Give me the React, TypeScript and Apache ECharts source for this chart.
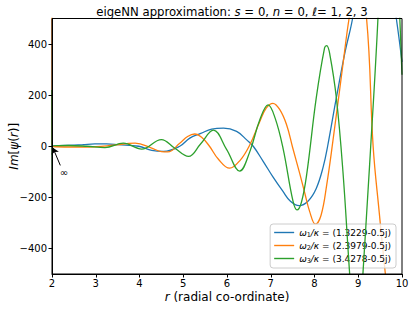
import React, { useEffect, useRef } from 'react';
import * as echarts from 'echarts';

// r (radial co-ordinate) and Im[psi(r)] values
const blueR = [2.0, 2.3, 2.7, 2.98, 3.25, 3.52, 3.98, 4.28, 4.55, 4.92, 5.15, 5.4, 5.65, 5.92, 6.22, 6.45, 6.6, 6.83, 7.05, 7.28, 7.45, 7.65, 7.85, 8.04, 8.2, 8.3, 8.5, 8.7, 8.87, 9.1, 9.35, 9.6, 9.87, 10.0];
const blueV = [0, 3, 6, 9, 9, 6, 0, -16, -20, 0, 32, 50, 67, 71, 58, 25, 0, -60, -120, -177, -215, -232, -215, -165, -80, 0, 190, 370, 500, 760, 880, 800, 500, 330];

const orangeR = [2.0, 2.006, 2.1, 2.5, 3.0, 3.4, 3.9, 4.28, 4.5, 4.65, 4.92, 5.1, 5.26, 5.42, 5.6, 5.8, 6.06, 6.3, 6.52, 6.75, 6.9, 7.05, 7.2, 7.36, 7.5, 7.66, 7.78, 7.89, 8.02, 8.15, 8.28, 8.42, 8.65, 8.79, 8.98, 9.19, 9.34, 9.48, 9.62, 9.85, 10.0];
const orangeV = [700, 0, -2, -3, -2, 4, 12, -7, -21, -22, 12, 38, 48, 35, 0, -50, -86, -55, 5, 97, 150, 168, 145, 85, -5, -105, -185, -256, -305, -270, -150, 20, 320, 500, 680, 500, 0, -260, -500, -850, -750];

const greenR = [2.0, 2.004, 2.009, 2.37, 2.8, 3.21, 3.63, 4.05, 4.5, 4.8, 5.12, 5.4, 5.69, 5.99, 6.29, 6.52, 6.75, 6.94, 7.1, 7.28, 7.51, 7.6, 7.7, 7.82, 8.04, 8.23, 8.28, 8.35, 8.5, 8.65, 8.8, 8.97, 9.11, 9.26, 9.45, 9.7, 9.95, 10.0];
const greenV = [220, -190, 0, 3, 0, -5, 12, -11, 26, -7, -40, 10, 63, -12, -97, -22, 104, 162, 110, -7, -216, -249, -220, -112, 189, 385, 394, 360, 189, -99, -490, -900, -490, -72, 500, 1500, 500, 280];

const seriesNames = ['w1', 'w2', 'w3'];
const omegaValues = ['(1.3229-0.5j)', '(2.3979-0.5j)', '(3.4278-0.5j)'];
const colors = ['#1f77b4', '#ff7f0e', '#2ca02c'];
const xTicks = [2, 3, 4, 5, 6, 7, 8, 9, 10];
const yTicks = [-400, -200, 0, 200, 400];

const FONT = 'DejaVu Sans';

function pairs(r: number[], v: number[]) {
  return r.map((x, i) => [x, v[i]]);
}

export default function App() {
  const ref = useRef<HTMLDivElement>(null);
  useEffect(() => {
    const chart = echarts.init(ref.current!, null, { renderer: 'svg' });
    const lineSeries = (idx: number, r: number[], v: number[], extra: any = {}) => ({
      name: seriesNames[idx],
      type: 'line',
      data: pairs(r, v),
      smooth: 0.4,
      symbol: 'none',
      showSymbol: false,
      clip: true,
      lineStyle: { color: colors[idx], width: 1.3 },
      itemStyle: { color: colors[idx] },
      z: 2 + idx,
      ...extra,
    });
    chart.setOption({
      animation: false,
      backgroundColor: '#fff',
      textStyle: { fontFamily: FONT },
      title: {
        text: 'eigeNN approximation: {i|s} = 0, {i|n} = 0, {i|ℓ}= 1, 2, 3',
        left: 227,
        textAlign: 'center',
        top: 1,
        textStyle: {
          fontFamily: FONT,
          fontSize: 11.7,
          fontWeight: 'normal',
          color: '#000',
          rich: { i: { fontStyle: 'italic', fontFamily: FONT, fontSize: 11.7, color: '#000' } },
        },
      },
      grid: {
        left: 52,
        right: 12,
        top: 18.5,
        bottom: 35,
        outerBoundsMode: 'none',
        containLabel: false,
        show: true,
        borderColor: '#000',
        borderWidth: 1,
        backgroundColor: 'transparent',
        z: 10,
      },
      legend: {
        orient: 'vertical',
        right: 18,
        bottom: 41,
        data: seriesNames,
        icon: 'rect',
        itemWidth: 20,
        itemHeight: 1.4,
        itemGap: 3,
        padding: [4, 5, 4, 4],
        backgroundColor: 'rgba(255,255,255,0.8)',
        borderColor: '#cccccc',
        borderWidth: 1,
        borderRadius: 3,
        formatter: (name: string) => {
          const i = seriesNames.indexOf(name);
          return `{i|ω}{s|${i + 1}}{i|/κ} = ${omegaValues[i]}`;
        },
        textStyle: {
          fontFamily: FONT,
          fontSize: 9,
          color: '#000',
          rich: {
            i: { fontStyle: 'italic', fontFamily: FONT, fontSize: 9, color: '#000' },
            s: { fontFamily: FONT, fontSize: 6.5, color: '#000', verticalAlign: 'bottom', padding: [4, 0, 0, 0] },
          },
        },
      },
      xAxis: {
        type: 'value',
        min: 2,
        max: 10,
        interval: 1,
        z: 10,
        name: '{i|r} (radial co-ordinate)',
        nameLocation: 'middle',
        nameGap: 17,
        nameMoveOverlap: false,
        nameTextStyle: {
          fontFamily: FONT,
          fontSize: 12,
          color: '#000',
          rich: { i: { fontStyle: 'italic', fontFamily: FONT, fontSize: 12, color: '#000' } },
        },
        axisLine: { show: true, onZero: false, lineStyle: { color: '#000', width: 1 } },
        axisTick: { show: true, inside: false, length: 3.5, lineStyle: { color: '#000' }, customValues: xTicks },
        axisLabel: { color: '#000', fontSize: 10, fontFamily: FONT, margin: 4, customValues: xTicks },
        splitLine: { show: false },
      },
      yAxis: {
        type: 'value',
        min: -500,
        max: 500,
        z: 10,
        name: '{i|Im}[{i|ψ}({i|r})]',
        nameLocation: 'middle',
        nameGap: 32,
        nameMoveOverlap: false,
        nameRotate: 90,
        nameTextStyle: {
          fontFamily: FONT,
          fontSize: 12,
          color: '#000',
          rich: { i: { fontStyle: 'italic', fontFamily: FONT, fontSize: 12, color: '#000' } },
        },
        axisLine: { show: true, onZero: false, lineStyle: { color: '#000', width: 1 } },
        axisTick: { show: true, inside: false, length: 3.5, lineStyle: { color: '#000' }, customValues: yTicks },
        axisLabel: {
          color: '#000',
          fontSize: 10,
          fontFamily: FONT,
          margin: 5,
          customValues: yTicks,
          formatter: (v: number) => (v < 0 ? '\u2212' + Math.abs(v) : String(v)),
        },
        splitLine: { show: false },
      },
      series: [
        lineSeries(0, blueR, blueV),
        lineSeries(1, orangeR, orangeV),
        lineSeries(2, greenR, greenV, {
          markLine: {
            silent: true,
            symbol: ['none', 'arrow'],
            symbolSize: 6,
            lineStyle: { color: '#000', width: 1, type: 'solid' },
            label: { show: false },
            data: [[{ coord: [2.19, -75] }, { coord: [2.02, -6] }]],
          },
          markPoint: {
            silent: true,
            symbol: 'circle',
            symbolSize: 0,
            label: { show: true, formatter: '∞', color: '#000', fontSize: 10, fontFamily: FONT, position: 'inside' },
            data: [{ coord: [2.27, -104] }],
          },
        }),
      ],
    });
    return () => chart.dispose();
  }, []);
  return <div ref={ref} style={{ position: 'absolute', left: 0, top: 0, width: 414, height: 309 }} />;
}
